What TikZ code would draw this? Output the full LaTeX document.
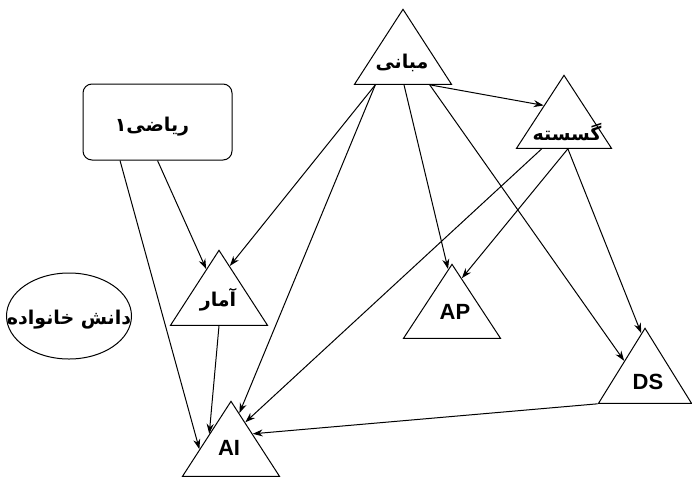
\documentclass[tikz,border=0pt]{standalone}
\usepackage{fontspec}
\setmainfont{Liberation Sans}
\newfontfamily\fa[Script=Arabic]{DejaVu Sans}
\TeXXeTstate=1
\usetikzlibrary{shapes.geometric,arrows.meta,calc}
\begin{document}
\begin{tikzpicture}[x=1pt,y=-1pt,
  tri/.style={draw, line width=1pt, isosceles triangle, isosceles triangle stretches,
    shape border rotate=90, inner sep=0pt, minimum width=97pt, minimum height=75pt, anchor=apex},
  lab/.style={font=\fa\bfseries\fontsize{19}{22}\selectfont, inner sep=0pt},
  en/.style={font=\bfseries\fontsize{22}{25}\selectfont, inner sep=0pt},
  arr/.style={line width=1pt, -{Stealth[length=10pt,width=7pt]}}]
\useasboundingbox (0,0) rectangle (692,477);
% shapes
\node[tri] (mabani) at (403,8) {};
\node[tri, minimum height=73pt, minimum width=95pt] (gosaste) at (564,74) {};
\node[tri] (amar) at (219,249) {};
\node[tri, minimum height=74pt] (ap) at (452,263) {};
\node[tri, minimum width=93pt] (ds) at (645,327) {};
\node[tri] (ai) at (231,400) {};
\node[draw, line width=1pt, rounded corners=9pt, minimum width=149pt, minimum height=76pt] (riyazi) at (157.5,122) {};
\node[draw, line width=1pt, ellipse, inner sep=0pt, minimum width=125pt, minimum height=86pt] (danesh) at (69,316) {};
% texts
\node[lab] (mabaniT) at (402,63) {\beginR مبانی\endR};
\node[lab] (gosasteT) at (567,132) {\beginR گسسته\endR};
\node[lab] (amarT) at (218,300) {\beginR آمار\endR};
\node[lab] (riyaziT) at (152,127) {\beginR ریاضی۱\endR};
\node[lab] (daneshT) at (69,320) {\beginR دانش خانواده\endR};
\node[en] (apT) at (455,312) {AP};
\node[en] (dsT) at (648,382) {DS};
\node[en] (aiT) at (229,448) {AI};
% connectors
\draw[arr] ($(mabani.left corner)!0.22!(mabani.right corner)$) -- ($(amar.apex)!0.22!(amar.right corner)$);
\draw[arr] ($(mabani.left corner)!0.22!(mabani.right corner)$) -- ($(ai.apex)!0.17!(ai.right corner)$);
\draw[arr] ($(mabani.left corner)!0.51!(mabani.right corner)$) -- ($(ap.apex)!0.08!(ap.left corner)$);
\draw[arr] ($(mabani.left corner)!0.77!(mabani.right corner)$) -- ($(gosaste.apex)!0.42!(gosaste.left corner)$);
\draw[arr] ($(mabani.left corner)!0.77!(mabani.right corner)$) -- ($(ds.apex)!0.44!(ds.left corner)$);
\draw[arr] ($(gosaste.left corner)!0.27!(gosaste.right corner)$) -- ($(ai.apex)!0.29!(ai.right corner)$);
\draw[arr] ($(gosaste.left corner)!0.54!(gosaste.right corner)$) -- ($(ap.apex)!0.2!(ap.right corner)$);
\draw[arr] ($(gosaste.left corner)!0.54!(gosaste.right corner)$) -- ($(ds.apex)!0.08!(ds.left corner)$);
\draw[arr] (riyazi.south) -- ($(amar.apex)!0.26!(amar.left corner)$);
\draw[arr] ($(riyazi.south west)!0.25!(riyazi.south east)$) -- ($(ai.apex)!0.64!(ai.left corner)$);
\draw[arr] ($(amar.left corner)!0.5!(amar.right corner)$) -- ($(ai.apex)!0.44!(ai.left corner)$);
\draw[arr] (ds.left corner) -- ($(ai.apex)!0.44!(ai.right corner)$);
\end{tikzpicture}
\end{document}
